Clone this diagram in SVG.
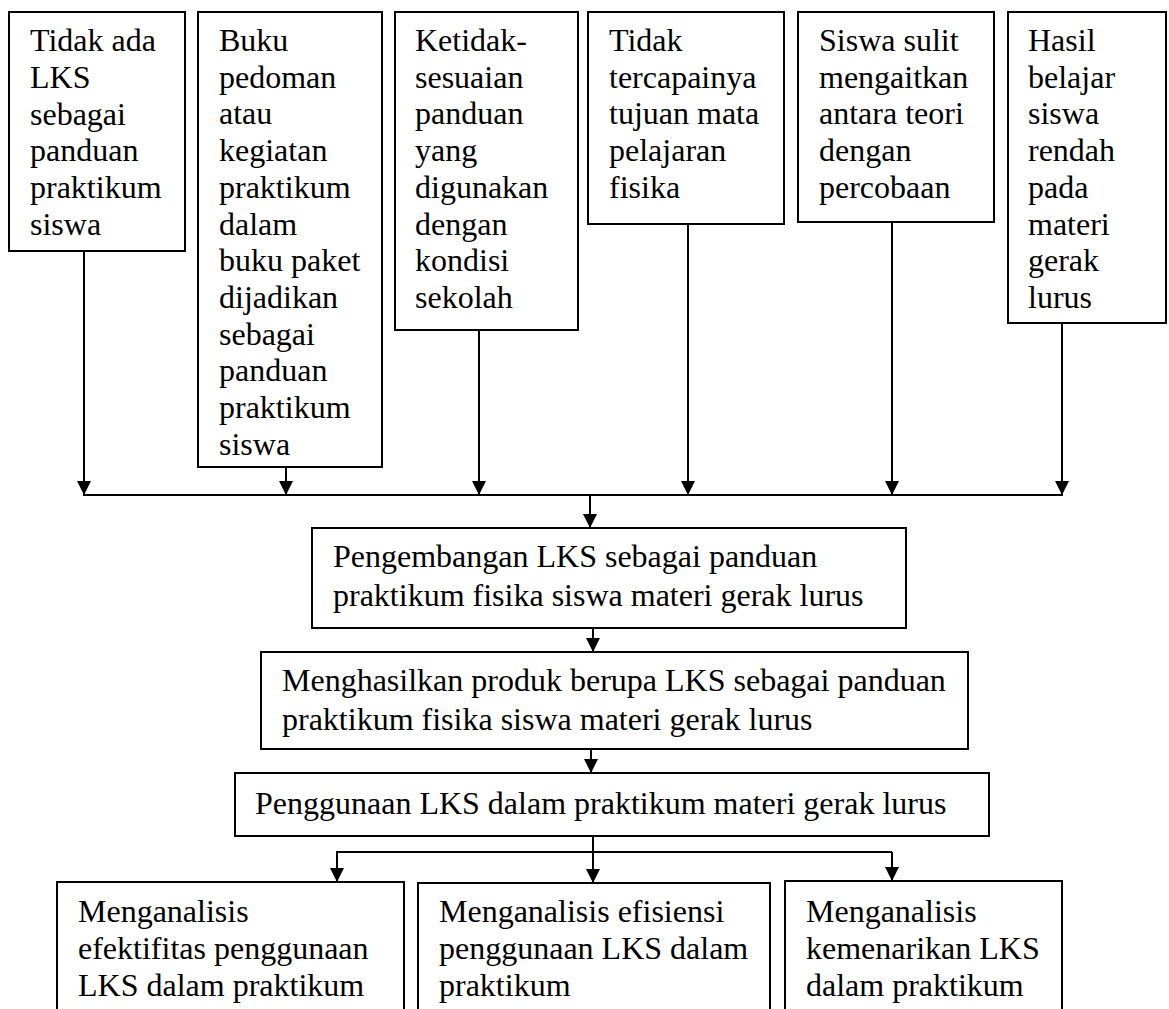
<svg xmlns="http://www.w3.org/2000/svg" width="1169" height="1009" viewBox="0 0 1169 1009">
<style>
  .box { fill: #ffffff; stroke: #000000; stroke-width: 2; }
  .t { font-family: 'Liberation Serif', Tinos, 'Times New Roman', Times, 'DejaVu Serif', serif; font-size: 32px; fill: #000000; }
  .c { stroke: #000000; stroke-width: 2; fill: none; }
  .a { stroke: #000000; stroke-width: 2; fill: none; marker-end: url(#arr); }
</style>
<defs>
  <marker id="arr" viewBox="0 0 14 14" refX="14" refY="7" markerWidth="14" markerHeight="14" markerUnits="userSpaceOnUse" orient="auto">
    <path d="M0,0 L14,7 L0,14 z" fill="#000000"/>
  </marker>
</defs>
<rect width="1169" height="1009" fill="#ffffff"/>

<g id="connectors">
  <line class="a" x1="84" y1="251" x2="84" y2="495"/>
  <line class="a" x1="286" y1="467" x2="286" y2="495"/>
  <line class="a" x1="479" y1="330" x2="479" y2="495"/>
  <line class="a" x1="688" y1="223" x2="688" y2="495"/>
  <line class="a" x1="892" y1="222" x2="892" y2="495"/>
  <line class="a" x1="1062" y1="323" x2="1062" y2="495"/>
  <line class="c" x1="83" y1="495" x2="1063" y2="495"/>
  <line class="a" x1="590" y1="495" x2="590" y2="528"/>
  <line class="a" x1="593" y1="626" x2="593" y2="652"/>
  <line class="a" x1="591" y1="747" x2="591" y2="773"/>
  <line class="a" x1="593" y1="836" x2="593" y2="883"/>
  <line class="c" x1="336" y1="852" x2="892" y2="852"/>
  <line class="a" x1="337" y1="852" x2="337" y2="882"/>
  <line class="a" x1="892" y1="852" x2="892" y2="881"/>
</g>

<g font-family="'Liberation Serif', Tinos, 'Times New Roman', Times, 'DejaVu Serif', serif">
<g id="n1">
  <rect class="box" x="9" y="12" width="176" height="239"/>
  <text class="t" x="30" y="51">Tidak ada</text>
  <text class="t" x="30" y="87.8">LKS</text>
  <text class="t" x="30" y="124.6">sebagai</text>
  <text class="t" x="30" y="161.4">panduan</text>
  <text class="t" x="30" y="198.2">praktikum</text>
  <text class="t" x="30" y="235">siswa</text>
</g>

<g id="n2">
  <rect class="box" x="198" y="12" width="184" height="455"/>
  <text class="t" x="219" y="51">Buku</text>
  <text class="t" x="219" y="87.7">pedoman</text>
  <text class="t" x="219" y="124.4">atau</text>
  <text class="t" x="219" y="161.1">kegiatan</text>
  <text class="t" x="219" y="197.8">praktikum</text>
  <text class="t" x="219" y="234.5">dalam</text>
  <text class="t" x="219" y="271.2">buku paket</text>
  <text class="t" x="219" y="307.9">dijadikan</text>
  <text class="t" x="219" y="344.6">sebagai</text>
  <text class="t" x="219" y="381.3">panduan</text>
  <text class="t" x="219" y="418">praktikum</text>
  <text class="t" x="219" y="454.7">siswa</text>
</g>

<g id="n3">
  <rect class="box" x="395" y="12" width="183" height="318"/>
  <text class="t" x="415" y="51">Ketidak-</text>
  <text class="t" x="415" y="87.7">sesuaian</text>
  <text class="t" x="415" y="124.4">panduan</text>
  <text class="t" x="415" y="161.1">yang</text>
  <text class="t" x="415" y="197.8">digunakan</text>
  <text class="t" x="415" y="234.5">dengan</text>
  <text class="t" x="415" y="271.2">kondisi</text>
  <text class="t" x="415" y="307.9">sekolah</text>
</g>

<g id="n4">
  <rect class="box" x="588" y="12" width="196" height="212"/>
  <text class="t" x="609" y="51">Tidak</text>
  <text class="t" x="609" y="87.7">tercapainya</text>
  <text class="t" x="609" y="124.4">tujuan mata</text>
  <text class="t" x="609" y="161.1">pelajaran</text>
  <text class="t" x="609" y="197.8">fisika</text>
</g>

<g id="n5">
  <rect class="box" x="798" y="12" width="196" height="210"/>
  <text class="t" x="819" y="51">Siswa sulit</text>
  <text class="t" x="819" y="87.7">mengaitkan</text>
  <text class="t" x="819" y="124.4">antara teori</text>
  <text class="t" x="819" y="161.1">dengan</text>
  <text class="t" x="819" y="197.8">percobaan</text>
</g>

<g id="n6">
  <rect class="box" x="1008" y="12" width="158" height="311"/>
  <text class="t" x="1028" y="51">Hasil</text>
  <text class="t" x="1028" y="87.7">belajar</text>
  <text class="t" x="1028" y="124.4">siswa</text>
  <text class="t" x="1028" y="161.1">rendah</text>
  <text class="t" x="1028" y="197.8">pada</text>
  <text class="t" x="1028" y="234.5">materi</text>
  <text class="t" x="1028" y="271.2">gerak</text>
  <text class="t" x="1028" y="307.9">lurus</text>
</g>

<g id="n7">
  <rect class="box" x="312" y="528" width="594" height="100"/>
  <text class="t" x="333" y="567">Pengembangan LKS sebagai panduan</text>
  <text class="t" x="333" y="606">praktikum fisika siswa materi gerak lurus</text>
</g>

<g id="n8">
  <rect class="box" x="261" y="652" width="707" height="97"/>
  <text class="t" x="282" y="691">Menghasilkan produk berupa LKS sebagai panduan</text>
  <text class="t" x="282" y="730">praktikum fisika siswa materi gerak lurus</text>
</g>

<g id="n9">
  <rect class="box" x="235" y="773" width="754" height="63"/>
  <text class="t" x="255" y="814">Penggunaan LKS dalam praktikum materi gerak lurus</text>
</g>

<g id="n10">
  <rect class="box" x="57" y="882" width="347" height="140"/>
  <text class="t" x="78" y="922">Menganalisis</text>
  <text class="t" x="78" y="959">efektifitas penggunaan</text>
  <text class="t" x="78" y="996">LKS dalam praktikum</text>
</g>

<g id="n11">
  <rect class="box" x="418" y="883" width="352" height="140"/>
  <text class="t" x="439" y="922">Menganalisis efisiensi</text>
  <text class="t" x="439" y="959">penggunaan LKS dalam</text>
  <text class="t" x="439" y="996">praktikum</text>
</g>

<g id="n12">
  <rect class="box" x="785" y="881" width="277" height="140"/>
  <text class="t" x="806" y="922">Menganalisis</text>
  <text class="t" x="806" y="959">kemenarikan LKS</text>
  <text class="t" x="806" y="996">dalam praktikum</text>
</g>
</g>
</svg>
